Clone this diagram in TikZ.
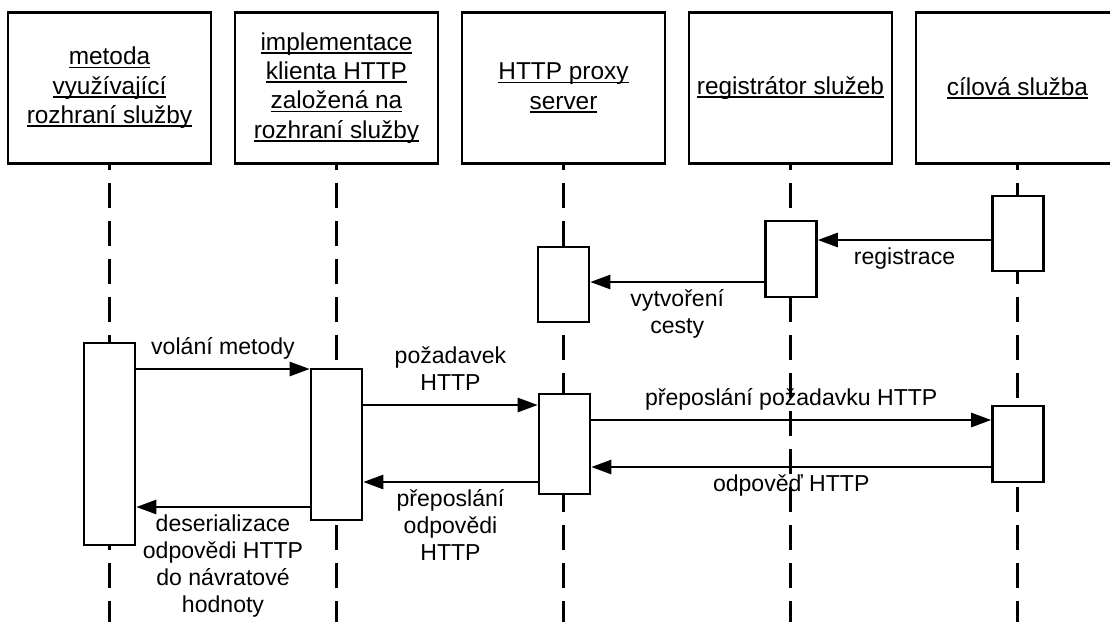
\documentclass[tikz,border=0pt]{standalone}
\usepackage{fontspec}
\setmainfont{Liberation Sans}
\usetikzlibrary{arrows.meta}
\newcommand\uln[1]{\setbox0=\hbox{#1}\rlap{\rule[-2.6pt]{\wd0}{1.3pt}}\box0}
\begin{document}
\begin{tikzpicture}[x=0.75pt,y=0.75pt,yscale=-1,xscale=1,
  headbox/.style={draw, line width=1.9pt, minimum width=152.25pt, minimum height=113.25pt, align=center, inner sep=0pt, font=\fontsize{18.3}{22}\selectfont},
  actbox/.style={draw, fill=white, line width=1.9pt, minimum width=38.25pt, inner sep=0pt},
  lifeline/.style={line width=1.9pt, dash pattern=on 18.75pt off 9.75pt, dash phase=15pt},
  msg/.style={line width=1.9pt, -{Triangle[length=15pt,width=10.5pt]}},
  lbl/.style={font=\fontsize{17.3}{20.2}\selectfont, align=center, inner sep=1pt, text depth=4pt},
  lblup/.style={lbl, midway, above=5pt},
  lbldown/.style={lbl, midway, below=4pt}]
\useasboundingbox (0,0) rectangle (1110,622);
\coordinate (bottom) at (0,622);
%Shape: Rectangle [head boxes]
\node[headbox] (metoda) at (109.5,88) {\uln{metoda}\\\uln{využívající}\\\uln{rozhraní služby}};
\node[headbox] (klient) at (336.5,88) {\uln{implementace}\\\uln{klienta HTTP}\\\uln{založená na}\\\uln{rozhraní služby}};
\node[headbox] (proxy) at (563.5,88) {\uln{HTTP proxy}\\\uln{server}};
\node[headbox] (registr) at (790.5,88) {\uln{registrátor služeb}};
\node[headbox] (sluzba) at (1017.5,88) {\uln{cílová služba}};
%Straight Lines [lifelines]
\draw[lifeline] (metoda.south) -- (metoda.south |- bottom);
\draw[lifeline] (klient.south) -- (klient.south |- bottom);
\draw[lifeline] (proxy.south) -- (proxy.south |- bottom);
\draw[lifeline] (registr.south) -- (registr.south |- bottom);
\draw[lifeline] (sluzba.south) -- (sluzba.south |- bottom);
%Shape: Rectangle [activations]
\node[actbox, minimum height=151.5pt] (aMetoda) at (109.5,444) {};
\node[actbox, minimum height=113.25pt] (aKlient) at (336.5,444.5) {};
\node[actbox, minimum height=56.25pt] (aProxyReg) at (563.5,284.5) {};
\node[actbox, minimum height=75pt] (aProxy) at (564.5,444) {};
\node[actbox, minimum height=57pt] (aRegistr) at (791,259) {};
\node[actbox, minimum height=56.25pt] (aSluzbaReg) at (1018,233.5) {};
\node[actbox, minimum height=57pt] (aSluzba) at (1018,444) {};
%Straight Lines [messages]
\draw[msg] (aSluzbaReg.west |- 0,240) -- (aRegistr.east |- 0,240) node[lbldown] {registrace};
\draw[msg] (aRegistr.west |- 0,282) -- (aProxyReg.east |- 0,282) node[lbldown] {vytvoření\\cesty};
\draw[msg] (aMetoda.east |- 0,369) -- (aKlient.west |- 0,369) node[lblup] {volání metody};
\draw[msg] (aKlient.east |- 0,405) -- (aProxy.west |- 0,405) node[lblup] {požadavek\\HTTP};
\draw[msg] (aProxy.east |- 0,420) -- (aSluzba.west |- 0,420) node[lblup] {přeposlání požadavku HTTP};
\draw[msg] (aSluzba.west |- 0,467) -- (aProxy.east |- 0,467) node[lbldown] {odpověď HTTP};
\draw[msg] (aProxy.west |- 0,482) -- (aKlient.east |- 0,482) node[lbldown] {přeposlání\\odpovědi\\HTTP};
\draw[msg] (aKlient.west |- 0,507) -- (aMetoda.east |- 0,507) node[lbldown] {deserializace\\odpovědi HTTP\\do návratové\\hodnoty};
\end{tikzpicture}
\end{document}
